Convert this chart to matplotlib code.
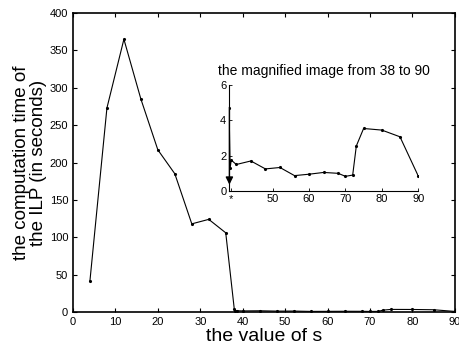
import numpy as np
import matplotlib
matplotlib.use("Agg")
import matplotlib.pyplot as plt

plt.rcParams['font.family'] = ['Liberation Sans', 'DejaVu Sans']

# data
s_values = [4, 8, 12, 16, 20, 24, 28, 32, 36, 38, 38.3, 38.6, 40, 44, 48, 52,
            56, 60, 64, 68, 70, 72, 73, 75, 80, 85, 90]
ilp_time = [42, 273, 365, 285, 217, 185, 118, 124, 106, 4.7, 1.3, 1.75, 1.5,
            1.7, 1.25, 1.33, 0.87, 0.95, 1.05, 1.0, 0.83, 0.9, 2.55, 3.54,
            3.45, 3.07, 0.86]

main_xticks = [0, 10, 20, 30, 40, 50, 60, 70, 80, 90]
main_yticks = [0, 50, 100, 150, 200, 250, 300, 350, 400]
inset_xticks = [38.6, 50, 60, 70, 80, 90]
inset_xticklabels = ['*', '50', '60', '70', '80', '90']
inset_yticks = [0, 2, 4, 6]

fig = plt.figure(figsize=(4.59, 3.53), dpi=100)
ax = fig.add_axes([0.159, 0.116, 0.832, 0.847])
ax.plot(s_values, ilp_time, color='black', lw=0.8, marker='.', ms=2.5)
ax.set_xlim(0, 90)
ax.set_ylim(0, 400)
ax.set_xticks(main_xticks)
ax.set_yticks(main_yticks)
ax.tick_params(direction='in', top=True, right=True, labelsize=8, length=3, width=0.8)
for sp in ax.spines.values():
    sp.set_linewidth(1.2)
ax.set_xlabel('the value of s', fontsize=14, labelpad=1)
ax.set_ylabel('the computation time of\nthe ILP (in seconds)', fontsize=13.5, labelpad=2,
              linespacing=0.95)

# inset: zoom on 38..90
ins = fig.add_axes([0.499, 0.459, 0.412, 0.30])
ins.plot(s_values, ilp_time, color='black', lw=0.8, marker='.', ms=2.5)
ins.set_xlim(38, 90)
ins.set_ylim(0, 6)
ins.set_xticks(inset_xticks)
ins.set_xticklabels(inset_xticklabels)
ins.set_yticks(inset_yticks)
ins.tick_params(direction='in', labelsize=8, length=2, width=0.6, pad=2)
ins.spines['top'].set_visible(False)
ins.spines['right'].set_visible(False)
for sp in ['left', 'bottom']:
    ins.spines[sp].set_linewidth(0.8)
ins.patch.set_alpha(0)
ins.annotate('', xy=(38.1, 0.2), xytext=(38.1, 4.9),
             arrowprops=dict(arrowstyle='-|>', color='black', lw=1.0,
                             mutation_scale=11))
ins.set_title('the magnified image from 38 to 90', fontsize=10, pad=7)

fig.savefig('out.png', dpi=100)
